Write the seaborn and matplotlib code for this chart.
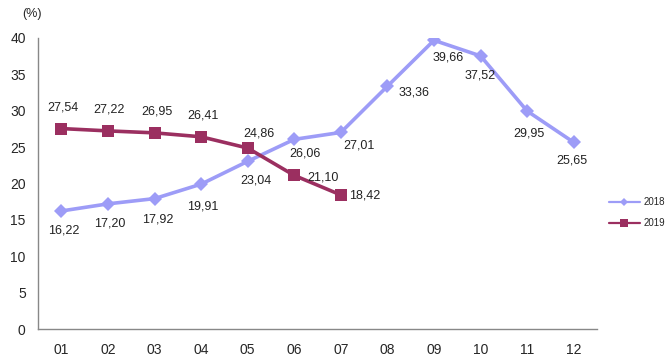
import numpy as np
import pandas as pd
import matplotlib
matplotlib.use("Agg")
import matplotlib.pyplot as plt
from matplotlib.lines import Line2D
import seaborn as sns

# data
months = ["01", "02", "03", "04", "05", "06", "07", "08", "09", "10", "11", "12"]
vals_2018 = [16.22, 17.20, 17.92, 19.91, 23.04, 26.06, 27.01, 33.36, 39.66, 37.52, 29.95, 25.65]
vals_2019 = [27.54, 27.22, 26.95, 26.41, 24.86, 21.10, 18.42]

# label offsets in pixels (dx, dy)
off_2018 = [(2, -20), (2, -20), (3, -21), (2, -22), (8, -19), (11, -14), (18, -13),
            (27, -6), (14, -17), (0, -20), (2, -22), (-2, -18)]
off_2019 = [(1, 21), (1, 21), (2, 21), (2, 21), (11, 15), (29, -2), (24, -1)]

df18 = pd.DataFrame({"x": np.arange(len(vals_2018)), "v": vals_2018})
df19 = pd.DataFrame({"x": np.arange(len(vals_2019)), "v": vals_2019})

sns.set_style("white")
plt.rcParams["font.family"] = ["Liberation Sans", "DejaVu Sans"]

c18 = "#9d9cf7"
c19 = "#9b2f60"

fig = plt.figure(figsize=(6.7, 3.64), dpi=100)
ax = fig.add_axes([0.057, 0.096, 0.834, 0.8])

sns.lineplot(data=df18, x="x", y="v", ax=ax, color=c18, lw=2.6, marker="D",
             markersize=7, markeredgewidth=0)
sns.lineplot(data=df19, x="x", y="v", ax=ax, color=c19, lw=2.6, marker="s",
             markersize=9, markeredgewidth=0)

for vals, offs in [(vals_2018, off_2018), (vals_2019, off_2019)]:
    for i, (v, (dx, dy)) in enumerate(zip(vals, offs)):
        ax.annotate(f"{v:.2f}".replace(".", ","), (i, v), xytext=(dx, dy),
                    textcoords="offset pixels", ha="center", va="center",
                    fontsize=9, color="#222222")

ax.set_xlim(-0.5, 11.5)
ax.set_ylim(0, 40)
ax.set_yticks(range(0, 41, 5))
ax.set_xticks(np.arange(-0.5, 12, 1))
ax.set_xticklabels([])
ax.set_xticks(np.arange(12), minor=True)
ax.set_xticklabels(months, minor=True)
ax.tick_params(axis="x", which="major", direction="out", length=5, color="#888888", width=1)
ax.tick_params(axis="x", which="minor", length=0, labelsize=10, pad=10)
ax.tick_params(axis="y", direction="out", length=4, color="#888888", width=1, labelsize=10, pad=5)
ax.set_xlabel("")
ax.set_ylabel("")
for s in ["top", "right"]:
    ax.spines[s].set_visible(False)
for s in ["left", "bottom"]:
    ax.spines[s].set_color("#888888")
    ax.spines[s].set_linewidth(1)

fig.text(0.033, 0.962, "(%)", fontsize=9, ha="left", va="center")

handles = [Line2D([], [], color=c18, lw=1.6, marker="D", markersize=4, markeredgewidth=0),
           Line2D([], [], color=c19, lw=1.6, marker="s", markersize=6, markeredgewidth=0)]
ax.legend(handles, ["2018", "2019"], loc="center left", bbox_to_anchor=(1.005, 0.4),
          frameon=False, fontsize=7, handlelength=3.2, labelspacing=1.1, handletextpad=0.4)

fig.savefig("out.png", dpi=100)
